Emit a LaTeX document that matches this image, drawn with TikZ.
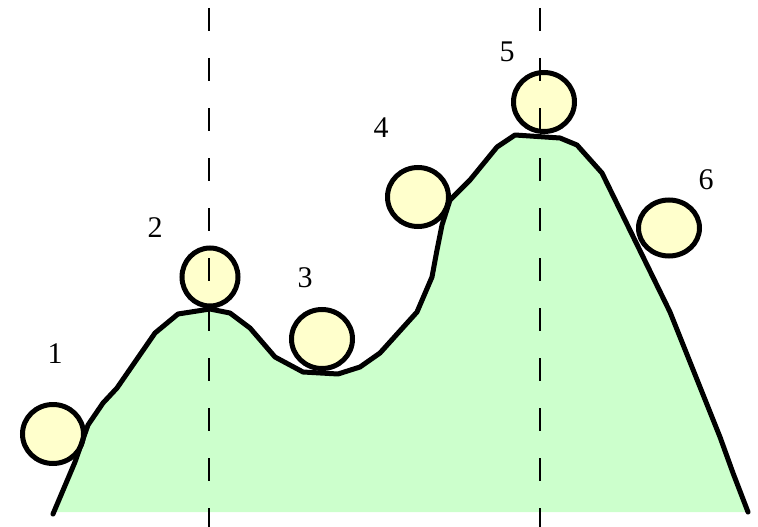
\documentclass[tikz,border=0pt]{standalone}
\usepackage{fontspec}
\setmainfont{Liberation Serif}
\usetikzlibrary{shapes.geometric}
\definecolor{hill}{HTML}{CCFFCC}
\definecolor{ballc}{HTML}{FFFFCC}
\tikzset{
  ball/.style={ellipse, draw=black, line width=5pt, fill=ballc, minimum width=61pt, minimum height=59pt, inner sep=0pt},
  numlabel/.style={font=\fontsize{30}{32}\selectfont, inner sep=0pt},
  guide/.style={line width=2pt, dash pattern=on 23pt off 27pt},
  ridge/.style={line width=5pt, line join=round, line cap=round}
}
\begin{document}
\begin{tikzpicture}[x=1pt,y=-1pt]
\useasboundingbox (0,0) rectangle (758,527);
\def\hillpath{(53,514) -- (75,462) -- (88,425) -- (103,403) -- (117,388) -- (155,333) -- (178,314) -- (210,309) -- (230,313) -- (250,328) -- (275,357) -- (303,372) -- (338,374) -- (360,367) -- (380,353) -- (417,312) -- (432,277) -- (437,250) -- (442,225) -- (450,200) -- (470,180) -- (497,147) -- (515,135) -- (560,138) -- (577,145) -- (602,173) -- (670,312) -- (720,437) -- (733,473) -- (748,512)}
\fill[hill] \hillpath -- (748,512) -- (53,512) -- cycle;
\node[ball] (b1) at (53,434) {};
\node[ball, minimum width=56pt, minimum height=58pt] (b2) at (210,277) {};
\node[ball] (b3) at (322,339) {};
\node[ball] (b4) at (418,197) {};
\node[ball] (b5) at (544,102) {};
\node[ball, minimum height=56pt] (b6) at (669,228) {};
\draw[guide] (209,8) -- (209,527);
\draw[guide] (540,8) -- (540,527);
\draw[ridge] \hillpath;
\node[numlabel] (l1) at (55,354) {1};
\node[numlabel] (l2) at (155,228) {2};
\node[numlabel] (l3) at (305,278) {3};
\node[numlabel] (l4) at (381,128) {4};
\node[numlabel] (l5) at (507,52) {5};
\node[numlabel] (l6) at (706,180) {6};
\end{tikzpicture}
\end{document}
